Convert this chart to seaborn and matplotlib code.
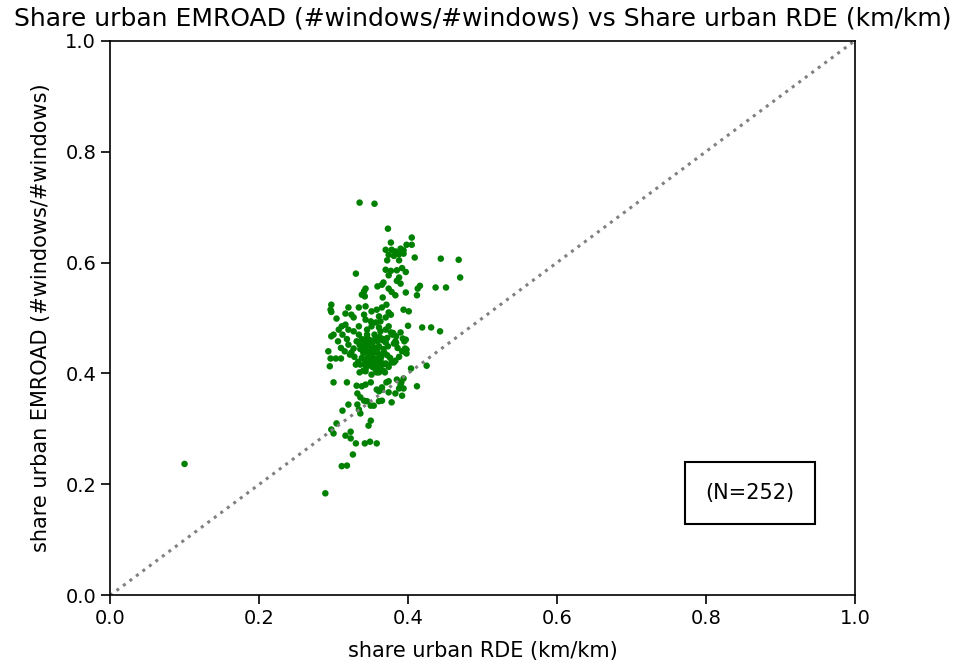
import numpy as np
import pandas as pd
import matplotlib
matplotlib.use("Agg")
import matplotlib.pyplot as plt
import seaborn as sns

# share urban RDE (km/km) vs share urban EMROAD (#windows/#windows)
share_rde = [
    0.335, 0.355, 0.373, 0.405, 0.377, 0.398, 0.405, 0.370, 0.378, 0.383,
    0.390, 0.394, 0.374, 0.381, 0.388, 0.394, 0.372, 0.388, 0.409, 0.444,
    0.468, 0.470, 0.370, 0.377, 0.385, 0.392, 0.397, 0.330, 0.374, 0.388,
    0.367, 0.365, 0.385, 0.390, 0.416, 0.413, 0.437, 0.451, 0.359, 0.343,
    0.341, 0.338, 0.342, 0.374, 0.378, 0.383, 0.397, 0.412, 0.366, 0.297,
    0.296, 0.297, 0.320, 0.334, 0.343, 0.351, 0.358, 0.365, 0.371, 0.374,
    0.394, 0.401, 0.304, 0.316, 0.324, 0.327, 0.341, 0.343, 0.350, 0.361,
    0.363, 0.370, 0.377, 0.400, 0.419, 0.431, 0.443,
    0.297, 0.300, 0.307, 0.311, 0.316, 0.320, 0.327, 0.334,
    0.345, 0.351, 0.357, 0.361, 0.363, 0.370, 0.374, 0.377, 0.384, 0.390, 0.397,
    0.320, 0.336, 0.339, 0.343, 0.347, 0.351, 0.355, 0.361, 0.367, 0.373, 0.381,
    0.338, 0.342, 0.345, 0.349, 0.352, 0.356, 0.359, 0.362, 0.366, 0.370,
    0.335, 0.340, 0.344, 0.348, 0.352, 0.355, 0.358, 0.361, 0.364, 0.368,
    0.372, 0.376, 0.338, 0.342, 0.346, 0.350, 0.353, 0.357, 0.360, 0.363,
    0.347, 0.352, 0.356, 0.344, 0.340, 0.358, 0.362, 0.366, 0.370, 0.374,
    0.378, 0.345, 0.334, 0.331, 0.327, 0.324, 0.318, 0.312, 0.306, 0.310,
    0.315, 0.328, 0.333, 0.383, 0.386, 0.388, 0.392, 0.379, 0.372, 0.355,
    0.293, 0.296, 0.303, 0.310, 0.295, 0.322,
    0.330, 0.336, 0.343, 0.350, 0.357, 0.363, 0.367,
    0.381, 0.383, 0.396, 0.398, 0.425, 0.404,
    0.335, 0.343, 0.351, 0.361, 0.367, 0.369,
    0.300, 0.318,
    0.331, 0.338, 0.343, 0.350, 0.358, 0.365,
    0.371, 0.374, 0.385, 0.390, 0.391, 0.394, 0.388, 0.394, 0.412,
    0.332, 0.336, 0.341, 0.345, 0.361, 0.365, 0.374, 0.383, 0.392, 0.361, 0.365, 0.378,
    0.320, 0.332, 0.334, 0.336, 0.350, 0.354, 0.312, 0.350, 0.347, 0.304,
    0.297, 0.300, 0.323, 0.316, 0.323, 0.330, 0.342, 0.349, 0.358, 0.326,
    0.311, 0.318, 0.289, 0.100,
    0.380, 0.393, 0.395, 0.398, 0.397, 0.367, 0.384,
]
share_emroad = [
    0.708, 0.706, 0.661, 0.645, 0.636, 0.632, 0.632, 0.623, 0.623, 0.620,
    0.625, 0.622, 0.614, 0.612, 0.615, 0.616, 0.604, 0.604, 0.609, 0.607,
    0.605, 0.573, 0.587, 0.585, 0.586, 0.590, 0.583, 0.580, 0.577, 0.573,
    0.564, 0.560, 0.567, 0.562, 0.558, 0.553, 0.555, 0.555, 0.557, 0.553,
    0.548, 0.542, 0.539, 0.553, 0.547, 0.541, 0.546, 0.541, 0.537, 0.524,
    0.515, 0.511, 0.519, 0.519, 0.521, 0.512, 0.515, 0.519, 0.524, 0.510,
    0.515, 0.512, 0.499, 0.508, 0.506, 0.501, 0.506, 0.497, 0.494, 0.503,
    0.494, 0.501, 0.506, 0.486, 0.483, 0.483, 0.476,
    0.467, 0.470, 0.479, 0.485, 0.488, 0.479, 0.476, 0.485,
    0.479, 0.485, 0.492, 0.483, 0.476, 0.479, 0.485, 0.474, 0.467, 0.474, 0.461,
    0.452, 0.444, 0.449, 0.447, 0.452, 0.444, 0.447, 0.449, 0.444, 0.449, 0.454,
    0.462, 0.458, 0.465, 0.460, 0.456, 0.462, 0.458, 0.466, 0.460, 0.456,
    0.452, 0.437, 0.441, 0.436, 0.432, 0.438, 0.442, 0.435, 0.430, 0.438,
    0.433, 0.428, 0.428, 0.424, 0.429, 0.426, 0.421, 0.426, 0.420, 0.424,
    0.418, 0.412, 0.408, 0.411, 0.405, 0.402, 0.412, 0.405, 0.418, 0.412,
    0.420, 0.470, 0.470, 0.458, 0.445, 0.438, 0.462, 0.470, 0.458, 0.446,
    0.440, 0.430, 0.421, 0.458, 0.446, 0.430, 0.440, 0.470, 0.464, 0.470,
    0.440, 0.427, 0.427, 0.427, 0.413, 0.434,
    0.416, 0.416, 0.416, 0.416, 0.416, 0.414, 0.417,
    0.420, 0.423, 0.445, 0.436, 0.414, 0.409,
    0.402, 0.404, 0.398, 0.402, 0.405, 0.402,
    0.384, 0.384,
    0.378, 0.377, 0.380, 0.384, 0.371, 0.375,
    0.384, 0.386, 0.389, 0.380, 0.384, 0.391, 0.373, 0.373, 0.377,
    0.364, 0.357, 0.351, 0.350, 0.368, 0.371, 0.366, 0.364, 0.360, 0.350, 0.351, 0.348,
    0.344, 0.344, 0.335, 0.328, 0.342, 0.342, 0.333, 0.315, 0.306, 0.310,
    0.299, 0.292, 0.295, 0.288, 0.283, 0.274, 0.274, 0.277, 0.274, 0.254,
    0.233, 0.234, 0.184, 0.237,
    0.473, 0.463, 0.458, 0.443, 0.438, 0.462, 0.455,
]

df = pd.DataFrame({"rde": share_rde, "emroad": share_emroad})

fig = plt.figure(figsize=(9.63, 6.66), dpi=100)
ax = fig.add_axes([0.1143, 0.106, 0.7735, 0.833])

sns.scatterplot(data=df, x="rde", y="emroad", color="green", s=22,
                edgecolor="none", linewidth=0, ax=ax)
ax.plot([0, 1], [0, 1], linestyle=":", color="gray", linewidth=2.2)

ax.set_xlim(0, 1)
ax.set_ylim(0, 1)
ax.set_xticks([0, 0.2, 0.4, 0.6, 0.8, 1.0])
ax.set_yticks([0, 0.2, 0.4, 0.6, 0.8, 1.0])
ax.set_xlabel("share urban RDE (km/km)", fontsize=15, labelpad=9)
ax.set_ylabel("share urban EMROAD (#windows/#windows)", fontsize=15, labelpad=10)
ax.set_title("Share urban EMROAD (#windows/#windows) vs Share urban RDE (km/km)",
             fontsize=18, pad=11)
ax.tick_params(labelsize=14, length=6.5, width=1.2)
for sp in ax.spines.values():
    sp.set_linewidth(1.2)

ax.text(0.859, 0.184, f"(N={len(df)})", fontsize=15, ha="center", va="center",
        bbox=dict(boxstyle="square,pad=1.0", facecolor="white",
                  edgecolor="black", linewidth=1.5))

fig.savefig("out.png", dpi=100)
